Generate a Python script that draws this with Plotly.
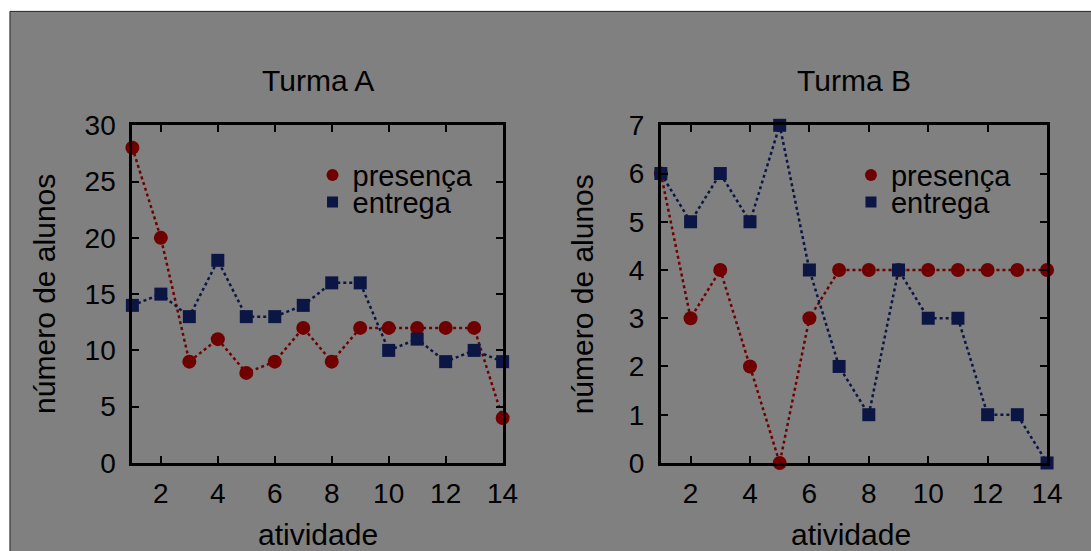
import plotly.graph_objects as go

atividade = list(range(1, 15))
presenca_A = [28, 20, 9, 11, 8, 9, 12, 9, 12, 12, 12, 12, 12, 4]
entrega_A = [14, 15, 13, 18, 13, 13, 14, 16, 16, 10, 11, 9, 10, 9]
presenca_B = [6, 3, 4, 2, 0, 3, 4, 4, 4, 4, 4, 4, 4, 4]
entrega_B = [6, 5, 6, 5, 7, 4, 2, 1, 4, 3, 3, 1, 1, 0]
x_ticks = [2, 4, 6, 8, 10, 12, 14]
y_ticks_A = [0, 5, 10, 15, 20, 25, 30]
y_ticks_B = [0, 1, 2, 3, 4, 5, 6, 7]

RED = "#700000"
NAVY = "#0b1645"
BG = "#808080"
FONT = "Liberation Sans"
W, H = 1091, 551
TXT = 30
TICK = 28
LEGF = 29

# mapping from target picture pixels to paper fractions (compensates the viewer's scaling)
def PX(x):
    return ((x + 2) / 0.99) / W

def PY(y):
    return 1 - ((y - 14.6) / 0.9447) / H

fig = go.Figure()

def add_panel(xa, ya, pres, entr, leg_p, leg_e):
    fig.add_trace(go.Scatter(x=atividade, y=pres, mode="lines+markers", xaxis=xa, yaxis=ya,
                             line=dict(color=RED, width=2.5, dash="dot"),
                             marker=dict(color=RED, size=14, symbol="circle"),
                             showlegend=False, cliponaxis=False))
    fig.add_trace(go.Scatter(x=atividade, y=entr, mode="lines+markers", xaxis=xa, yaxis=ya,
                             line=dict(color=NAVY, width=2.5, dash="dot"),
                             marker=dict(color=NAVY, size=13, symbol="square"),
                             showlegend=False, cliponaxis=False))
    fig.add_trace(go.Scatter(x=[None], y=[None], mode="markers", xaxis=xa, yaxis=ya,
                             marker=dict(color=RED, size=12, symbol="circle"),
                             name="presença", legend=leg_p))
    fig.add_trace(go.Scatter(x=[None], y=[None], mode="markers", xaxis=xa, yaxis=ya,
                             marker=dict(color=NAVY, size=11, symbol="square"),
                             name="entrega", legend=leg_e))

add_panel("x", "y", presenca_A, entrega_A, "legend", "legend2")
add_panel("x2", "y2", presenca_B, entrega_B, "legend3", "legend4")

ydom = [PY(463), PY(125)]
axis_common = dict(showline=True, linewidth=3, linecolor="black", mirror="ticks",
                   ticks="inside", ticklen=7, tickwidth=2, tickcolor="black",
                   showgrid=False, zeroline=False,
                   tickfont=dict(family=FONT, size=TICK, color="black"))

def leg(xpx, ypx):
    return dict(x=PX(xpx), y=PY(ypx), xanchor="left", yanchor="middle",
                bgcolor="rgba(0,0,0,0)", font=dict(family=FONT, size=LEGF, color="black"),
                itemwidth=30, borderwidth=0)

def label(text, xpx, ypx, angle=0):
    return dict(text=text, x=PX(xpx), y=PY(ypx), xref="paper", yref="paper", showarrow=False,
                textangle=angle, font=dict(family=FONT, size=TXT, color="black"),
                xanchor="center", yanchor="middle")

fig.update_layout(
    width=W, height=H,
    margin=dict(l=0, r=0, t=0, b=0),
    paper_bgcolor="white", plot_bgcolor=BG,
    xaxis=dict(domain=[PX(131), PX(503)], range=[1, 14], tickvals=x_ticks, anchor="y",
               ticklabelstandoff=3, **axis_common),
    yaxis=dict(domain=ydom, range=[0, 30], tickvals=y_ticks_A, anchor="x",
               ticklabelstandoff=8, **axis_common),
    xaxis2=dict(domain=[PX(662), PX(1050)], range=[1, 14], tickvals=x_ticks, anchor="y2",
                ticklabelstandoff=3, **axis_common),
    yaxis2=dict(domain=ydom, range=[0, 7], tickvals=y_ticks_B, anchor="x2",
                ticklabelstandoff=8, **axis_common),
    legend=leg(312, 175),
    legend2=leg(312, 202),
    legend3=leg(853, 175),
    legend4=leg(853, 202),
    shapes=[dict(type="rect", xref="paper", yref="paper", x0=PX(8), x1=1.05, y0=-0.06, y1=PY(11),
                 fillcolor=BG, line=dict(color="#222222", width=1), layer="below")],
    annotations=[
        label("Turma A", 318, 80),
        label("Turma B", 856, 80),
        label("atividade", 318, 535),
        label("atividade", 853, 535),
        label("número de alunos", 42, 294, -90),
        label("número de alunos", 583, 294, -90),
    ],
)

post = (
    "document.documentElement.style.overflow='hidden';"
    "document.body.style.margin='0';document.body.style.overflow='hidden';"
    "var d=document.getElementById('{plot_id}');"
    "d.style.position='fixed';d.style.left='0px';d.style.top='0px';"
)
fig.write_html("out.html", config={"responsive": False, "displayModeBar": False}, post_script=post)
